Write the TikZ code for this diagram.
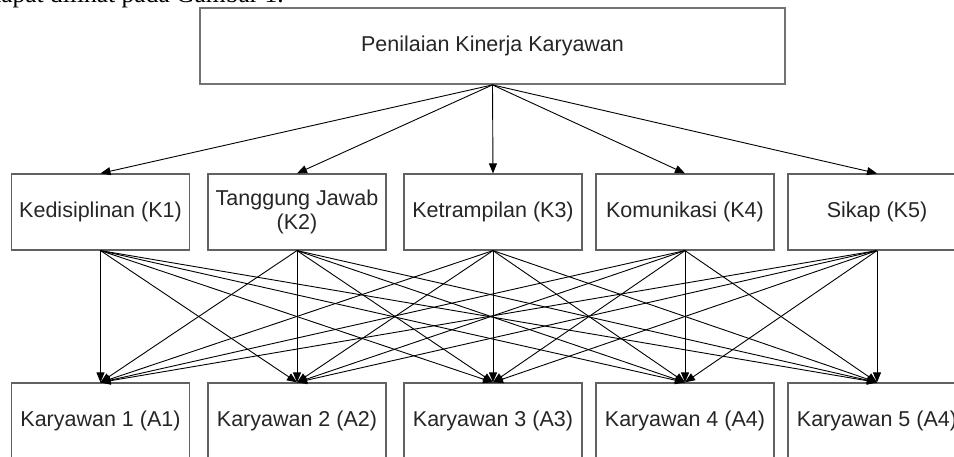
\documentclass[tikz,border=0pt]{standalone}
\usepackage{fontspec}
\setmainfont{Liberation Sans}
\newfontfamily\bodyfont{Liberation Serif}
\usetikzlibrary{arrows.meta}
\tikzset{block/.style = {draw=black!62, fill=white, line width=1.2pt, rectangle, minimum height=76pt, minimum width=178pt, align=center, inner sep=0pt,
                         font=\fontsize{21.5}{24}\selectfont, text=black!85},
         topblock/.style = {block, line width=1.8pt, draw=black!55, minimum width=585pt},
         link/.style = {-{Triangle[length=10pt,width=8pt]}, line width=0.9pt, black}}

\begin{document}
\begin{tikzpicture}[x=1pt,y=1pt]
        \useasboundingbox (0,0) rectangle (954,457);
        \node[anchor=base east, inner sep=0pt, font=\bodyfont\fontsize{25.5}{27}\selectfont] (caption) at (284,454) {dapat dilihat pada Gambar 1.};

        \node[topblock] (pkk) at (492.5,411) {Penilaian Kinerja Karyawan};

        \node[block] (k1) at (100.5,245) {Kedisiplinan (K1)};
        \node[block] (k2) at (297,245) {Tanggung Jawab\\(K2)};
        \node[block] (k3) at (493,245) {Ketrampilan (K3)};
        \node[block] (k4) at (685,245) {Komunikasi (K4)};
        \node[block] (k5) at (877,245) {Sikap (K5)};

        \node[block] (a1) at (100.5,36) {Karyawan 1 (A1)};
        \node[block] (a2) at (297,36) {Karyawan 2 (A2)};
        \node[block] (a3) at (493,36) {Karyawan 3 (A3)};
        \node[block] (a4) at (685,36) {Karyawan 4 (A4)};
        \node[block] (a5) at (877,36) {Karyawan 5 (A4)};

        \draw[link](pkk.south)--(k1.north);
        \draw[link](pkk.south)--(k2.north);
        \draw[link](pkk.south)--(k3.north);
        \draw[link](pkk.south)--(k4.north);
        \draw[link](pkk.south)--(k5.north);

        \draw[link](k1.south)--(a1.north);
        \draw[link](k1.south)--(a2.north);
        \draw[link](k1.south)--(a3.north);
        \draw[link](k1.south)--(a4.north);
        \draw[link](k1.south)--(a5.north);

        \draw[link](k2.south)--(a1.north);
        \draw[link](k2.south)--(a2.north);
        \draw[link](k2.south)--(a3.north);
        \draw[link](k2.south)--(a4.north);
        \draw[link](k2.south)--(a5.north);

        \draw[link](k3.south)--(a1.north);
        \draw[link](k3.south)--(a2.north);
        \draw[link](k3.south)--(a3.north);
        \draw[link](k3.south)--(a4.north);
        \draw[link](k3.south)--(a5.north);

        \draw[link](k4.south)--(a1.north);
        \draw[link](k4.south)--(a2.north);
        \draw[link](k4.south)--(a3.north);
        \draw[link](k4.south)--(a4.north);
        \draw[link](k4.south)--(a5.north);

        \draw[link](k5.south)--(a1.north);
        \draw[link](k5.south)--(a2.north);
        \draw[link](k5.south)--(a3.north);
        \draw[link](k5.south)--(a4.north);
        \draw[link](k5.south)--(a5.north);
    \end{tikzpicture}
\end{document}
